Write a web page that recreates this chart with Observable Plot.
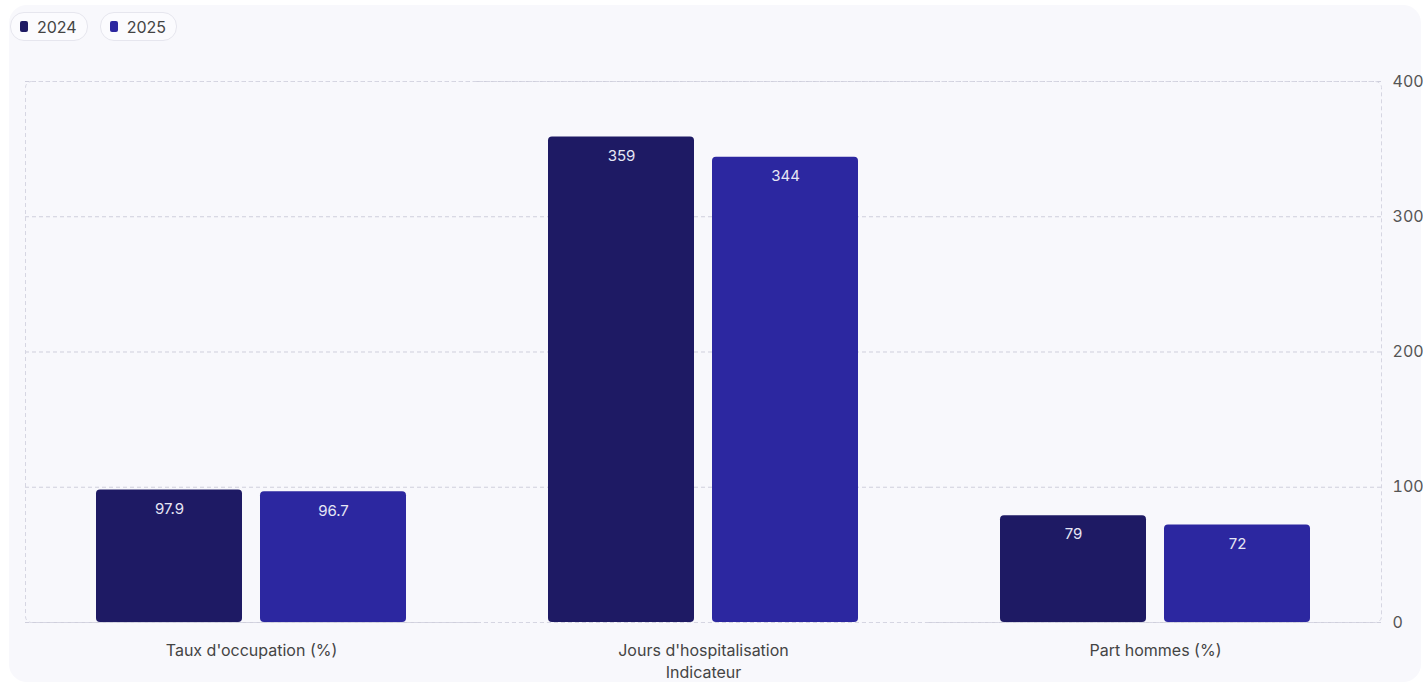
<!DOCTYPE html>
<html>
<head>
<meta charset="utf-8">
<script src="https://cdn.jsdelivr.net/npm/d3@7"></script>
<script src="https://cdn.jsdelivr.net/npm/@observablehq/plot@0.6"></script>
<style>
  body { margin: 0; background: #ffffff; font-family: Inter, "Noto Sans", sans-serif; overflow: hidden; }
  #card { position: absolute; left: 9px; top: 5px; width: 1412px; height: 677px; border-radius: 18px; background: #f8f8fc; }
  #legend { position: absolute; left: 10px; top: 12px; display: flex; gap: 12px; }
  .pill { display: flex; align-items: center; gap: 9px; height: 27px; padding: 0 10px 0 9px; border: 1px solid #e6e6ee; border-radius: 14px; background: #fbfbfe; font-size: 16px; color: #444; }
  .sw { width: 8px; height: 11px; border-radius: 2px; }
  #chart { position: absolute; left: 0; top: 50px; }
</style>
</head>
<body>
<div id="card"></div>
<div id="legend"></div>
<div id="chart"></div>
<script>
const indicators = ["Taux d'occupation (%)", "Jours d'hospitalisation", "Part hommes (%)"];
const years = ["2024", "2025"];
const values2024 = [97.9, 359, 79];
const values2025 = [96.7, 344, 72];
const colors = ["#1e1a64", "#2c27a0"];
const yTicks = [0, 100, 200, 300, 400];

const data = [];
indicators.forEach((ind, i) => {
  data.push({indicateur: ind, annee: years[0], valeur: values2024[i]});
  data.push({indicateur: ind, annee: years[1], valeur: values2025[i]});
});

const legend = document.getElementById("legend");
years.forEach((y, i) => {
  const p = document.createElement("div");
  p.className = "pill";
  p.innerHTML = `<span class="sw" style="background:${colors[i]}"></span><span>${y}</span>`;
  legend.appendChild(p);
});

const chart = Plot.plot({
  width: 1423,
  height: 634,
  marginTop: 31,
  marginBottom: 62,
  marginLeft: 24,
  marginRight: 42,
  style: {background: "transparent", fontFamily: "Inter, 'Noto Sans', sans-serif", fontSize: "16px", color: "#444"},
  fx: {domain: indicators, padding: 0, label: "Indicateur", labelAnchor: "center"},
  x: {domain: years, paddingInner: 0.11, paddingOuter: 0.43, axis: null},
  y: {domain: [0, 400], ticks: yTicks, axis: null},
  color: {domain: years, range: colors},
  marks: [
    Plot.gridY(yTicks, {stroke: "#cfcfdc", strokeOpacity: 1, strokeDasharray: "4,3", strokeWidth: 1}),
    Plot.frame({stroke: "#d6d6e2", strokeDasharray: "4,3", rx: 6, facet: "super"}),
    Plot.axisFx({anchor: "bottom", tickSize: 0, tickPadding: 22, fontSize: 16, fill: "#444", label: "Indicateur", labelOffset: 55, labelAnchor: "center"}),
    Plot.axisY(yTicks, {anchor: "right", tickSize: 0, tickPadding: 11, fontSize: 16, fill: "#555", label: null}),
    Plot.barY(data, {fx: "indicateur", x: "annee", y: "valeur", fill: "annee", rx: 4}),
    Plot.text(data, {fx: "indicateur", x: "annee", y: "valeur", text: d => String(d.valeur), dy: 19, fill: "#e6e6f4", fontSize: 15})
  ]
});
document.getElementById("chart").appendChild(chart);
</script>
</body>
</html>
